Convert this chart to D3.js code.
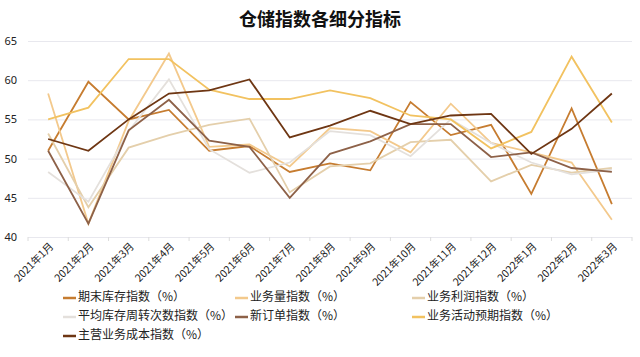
<!DOCTYPE html>
<html><head><meta charset="utf-8">
<script src="https://cdn.jsdelivr.net/npm/d3@7"></script>
<style>
html,body{margin:0;padding:0;background:#fff;}
svg{display:block;font-family:"Noto Sans CJK SC","Noto Sans",sans-serif;}
</style></head>
<body>
<svg id="c" width="640" height="357"></svg>
<script>
const categories = ["2021年1月","2021年2月","2021年3月","2021年4月","2021年5月","2021年6月","2021年7月","2021年8月","2021年9月","2021年10月","2021年11月","2021年12月","2022年1月","2022年2月","2022年3月"];
const endInventory   = [51.0, 59.8, 55.0, 56.2, 51.0, 51.6, 48.3, 49.4, 48.5, 57.2, 53.0, 54.3, 45.5, 56.4, 44.2];
const businessVolume = [58.3, 41.7, 54.8, 63.4, 51.5, 51.8, 49.0, 53.9, 53.5, 50.8, 57.0, 52.0, 50.8, 49.5, 42.2];
const businessProfit = [53.2, 43.8, 51.4, 53.0, 54.3, 55.1, 45.7, 49.0, 49.4, 52.1, 52.4, 47.1, 49.2, 48.2, 48.8];
const turnover       = [48.3, 44.5, 53.5, 60.1, 51.2, 48.2, 49.5, 53.5, 53.0, 50.3, 55.0, 52.0, 49.5, 48.0, 48.6];
const newOrders      = [51.0, 41.7, 53.6, 57.5, 52.3, 51.5, 45.0, 50.6, 52.2, 54.4, 54.4, 50.2, 50.8, 48.8, 48.3];
const expectation    = [55.0, 56.5, 62.7, 62.7, 58.8, 57.6, 57.6, 58.7, 57.7, 55.5, 55.0, 51.3, 53.4, 63.0, 54.6];
const mainCost       = [52.5, 51.0, 55.0, 58.3, 58.7, 60.1, 52.7, 54.2, 56.1, 54.4, 55.5, 55.7, 50.6, 53.8, 58.3];
const seriesNames = ["期末库存指数（%）","业务量指数（%）","业务利润指数（%）","平均库存周转次数指数（%）","新订单指数（%）","业务活动预期指数（%）","主营业务成本指数（%）"];
const seriesColors = ["#c67c30","#f3c98c","#e4cfab","#e4e0dc","#8d6148","#f2c260","#6e3613"];
const yTicks = [40,45,50,55,60,65];
const title = "仓储指数各细分指标";

const seriesValues = [endInventory,businessVolume,businessProfit,turnover,newOrders,expectation,mainCost];
const series = seriesNames.map((n,i)=>({name:n,color:seriesColors[i],values:seriesValues[i]}));

const svg = d3.select("#c");
const L=28,R=632,T=41,B=237;
const x = d3.scaleBand().domain(categories).range([L,R]).padding(0);
const y = d3.scaleLinear().domain([40,65]).range([B,T]);

svg.append("text").attr("x",320).attr("y",26).attr("text-anchor","middle")
  .attr("font-size",18).attr("font-weight","bold").attr("fill","#111").text(title);

const ya = svg.append("g").attr("transform",`translate(${L},0)`)
  .call(d3.axisLeft(y).tickValues(yTicks).tickSize(-(R-L)).tickPadding(11).tickFormat(d3.format("d")));
ya.select(".domain").remove();
ya.selectAll(".tick line").attr("stroke","#e8e8ee").attr("stroke-width",1);
ya.selectAll(".tick text").attr("font-size",11).attr("fill","#222").attr("font-family","'Noto Sans',sans-serif");

// x ticks at band boundaries
const bounds = categories.map(c=>x(c)).concat([R]);
svg.append("g").selectAll("line").data(bounds).join("line")
  .attr("x1",d=>d).attr("x2",d=>d).attr("y1",B).attr("y2",B+4)
  .attr("stroke","#dcdcdc");

svg.append("g").selectAll("text").data(categories).join("text")
  .attr("transform",d=>`translate(${x(d)+x.bandwidth()/2+4},${B+8}) rotate(-45)`)
  .attr("text-anchor","end").attr("dominant-baseline","middle")
  .attr("font-size",10.5).attr("fill","#222").text(d=>d);

const line = d3.line().x((d,i)=>x(categories[i])+x.bandwidth()/2).y(d=>y(d));
svg.append("g").selectAll("path").data(series).join("path")
  .attr("d",d=>line(d.values)).attr("fill","none")
  .attr("stroke",d=>d.color).attr("stroke-width",1.8).attr("stroke-linejoin","miter");

const colX=[63,235,412], rowY=[298,317,336];
const lg = svg.append("g").selectAll("g").data(series).join("g")
  .attr("transform",(d,i)=>`translate(${colX[i%3]},${rowY[Math.floor(i/3)]})`);
lg.append("line").attr("x1",0).attr("x2",13).attr("y1",0).attr("y2",0)
  .attr("stroke",d=>d.color).attr("stroke-width",2.5);
lg.append("text").attr("x",15).attr("y",0).attr("dominant-baseline","middle")
  .attr("font-size",12).attr("fill","#222").text(d=>d.name);
</script>
</body></html>
